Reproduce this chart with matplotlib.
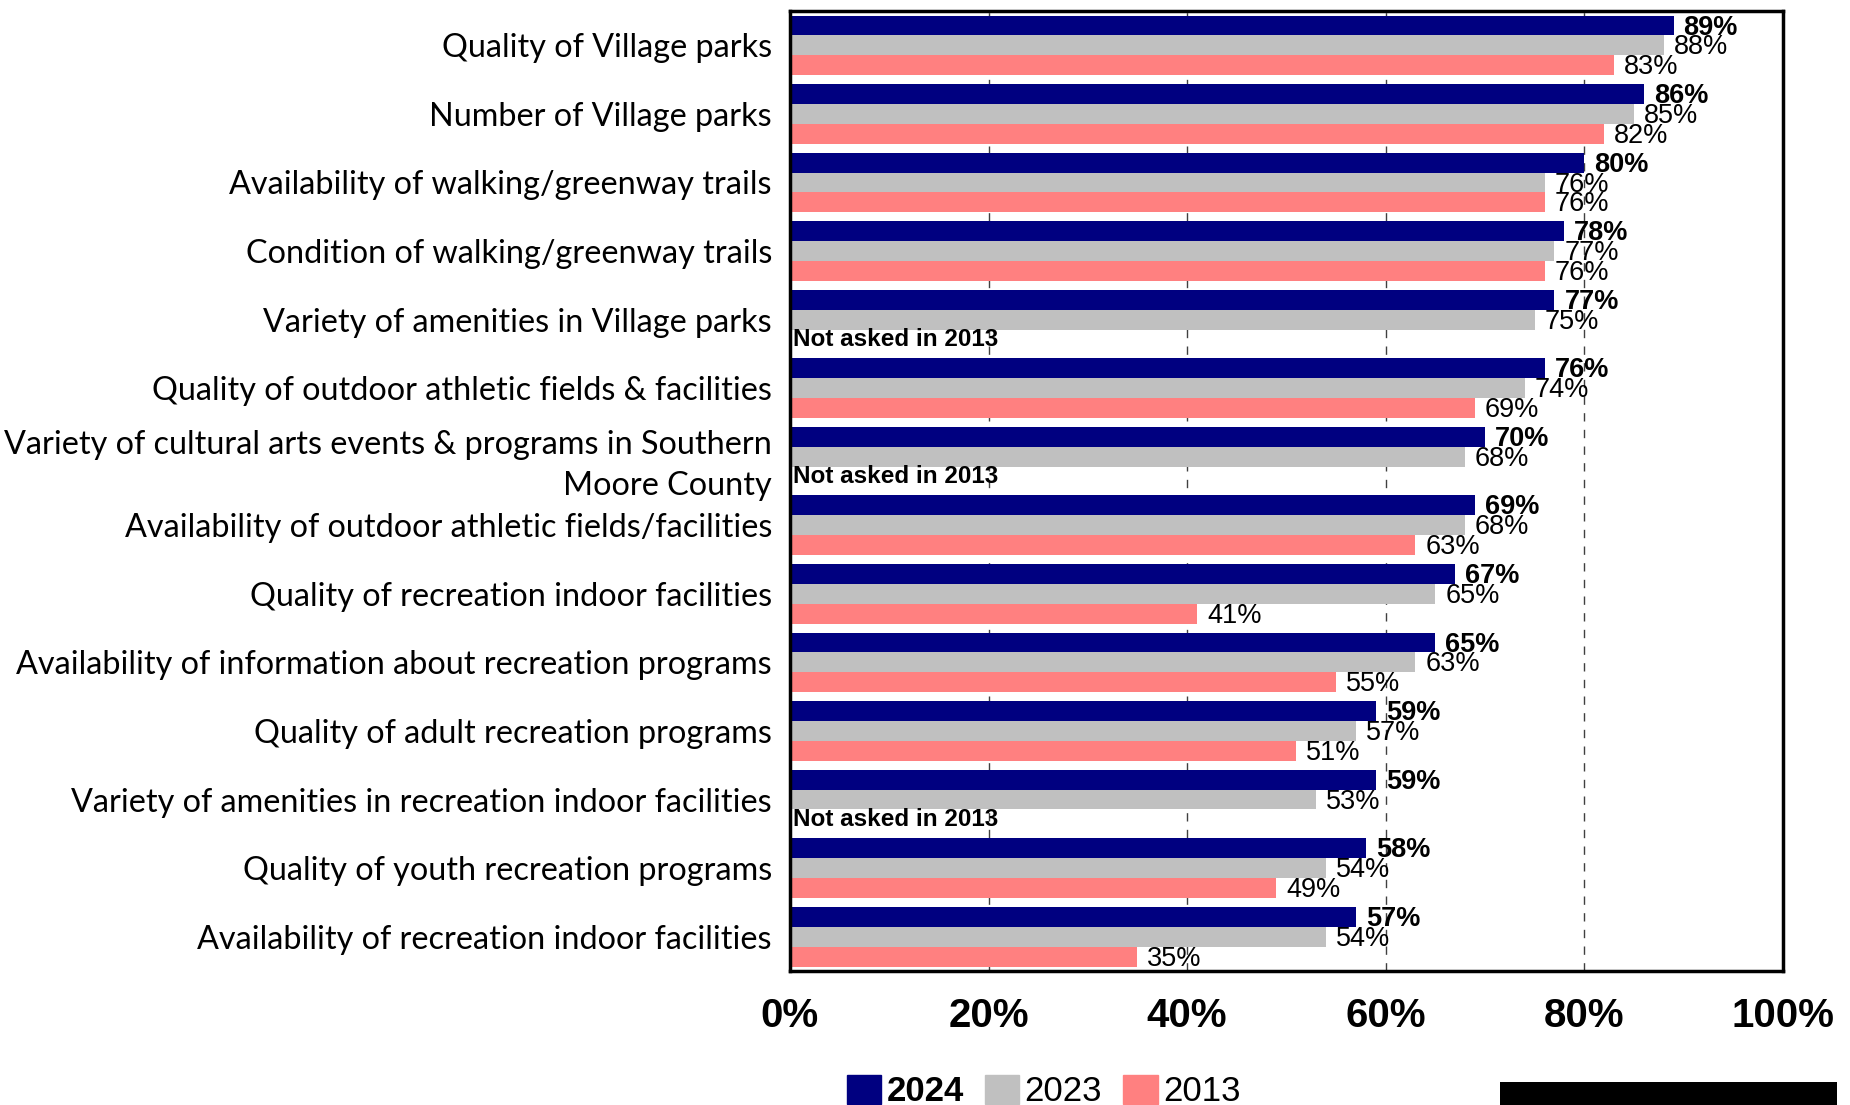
import numpy as np
import matplotlib.pyplot as plt
from matplotlib.patches import Rectangle

# Satisfaction with parks & recreation, by survey year
categories = [
    'Quality of Village parks',
    'Number of Village parks',
    'Availability of walking/greenway trails',
    'Condition of walking/greenway trails',
    'Variety of amenities in Village parks',
    'Quality of outdoor athletic fields & facilities',
    'Variety of cultural arts events & programs in Southern\nMoore County',
    'Availability of outdoor athletic fields/facilities',
    'Quality of recreation indoor facilities',
    'Availability of information about recreation programs',
    'Quality of adult recreation programs',
    'Variety of amenities in recreation indoor facilities',
    'Quality of youth recreation programs',
    'Availability of recreation indoor facilities',
]
y2024 = [89, 86, 80, 78, 77, 76, 70, 69, 67, 65, 59, 59, 58, 57]
y2023 = [88, 85, 76, 77, 75, 74, 68, 68, 65, 63, 57, 53, 54, 54]
y2013 = [83, 82, 76, 76, None, 69, None, 63, 41, 55, 51, None, 49, 35]
years = ['2024', '2023', '2013']
colors = ['#000080', '#C0C0C0', '#FF8080']

label_font = ['Lato', 'DejaVu Sans']
num_font = ['Liberation Sans Narrow', 'Liberation Sans', 'DejaVu Sans']

fig = plt.figure(figsize=(18.5, 11.05), dpi=100)
ax = fig.add_axes([0.427, 0.1213, 0.5367, 0.8687])

n = len(categories)
y = np.arange(n)
h = 0.29
series = [y2024, y2023, y2013]
for k, (vals, col) in enumerate(zip(series, colors)):
    off = (k - 1) * h
    for i, v in enumerate(vals):
        if v is None:
            continue
        ax.barh(y[i] + off, v, height=h, color=col, zorder=2)
        ax.text(v + 1.0, y[i] + off + 0.03, f'{v}%', va='center', ha='left',
                fontsize=19.5, family=num_font,
                fontweight='bold' if k == 0 else 'normal', zorder=3)

# rows without a 2013 value
for i, v in enumerate(y2013):
    if v is None:
        ax.text(0.3, y[i] + h, 'Not asked in 2013', va='center', ha='left',
                fontsize=17.5, family=num_font, fontweight='bold', zorder=3)

ax.set_xlim(0, 100)
ax.set_ylim(n - 0.5, -0.5)
ax.set_xticks(np.arange(0, 101, 20))
ax.set_xticklabels([f'{t}%' for t in range(0, 101, 20)], fontsize=29,
                   fontweight='bold', family=num_font)
ax.set_yticks(y)
ax.set_yticklabels(categories, fontsize=23.3, family=label_font, linespacing=1.45)
ax.tick_params(axis='x', length=0, pad=19)
ax.tick_params(axis='y', length=0, pad=13)

for xv in [20, 40, 60, 80]:
    ax.axvline(xv, color='#404040', lw=1.0, linestyle=(0, (6, 6)), zorder=1)

for s in ax.spines.values():
    s.set_linewidth(2.5)
    s.set_color('black')

handles = [Rectangle((0, 0), 1, 1, color=c) for c in colors]
leg = fig.legend(handles, years, loc='center', bbox_to_anchor=(0.564, 0.012),
                 ncol=3, frameon=False, handlelength=1.0, handleheight=0.9,
                 handletextpad=0.15, columnspacing=0.6, borderpad=0.2,
                 prop={'family': num_font, 'size': 25})
leg.get_texts()[0].set_fontweight('bold')

# black bar in the lower right corner
fig.patches.append(Rectangle((0.811, 0.0), 0.182, 0.021, transform=fig.transFigure,
                             facecolor='black', edgecolor='none'))

fig.savefig('out.png', dpi=100)
